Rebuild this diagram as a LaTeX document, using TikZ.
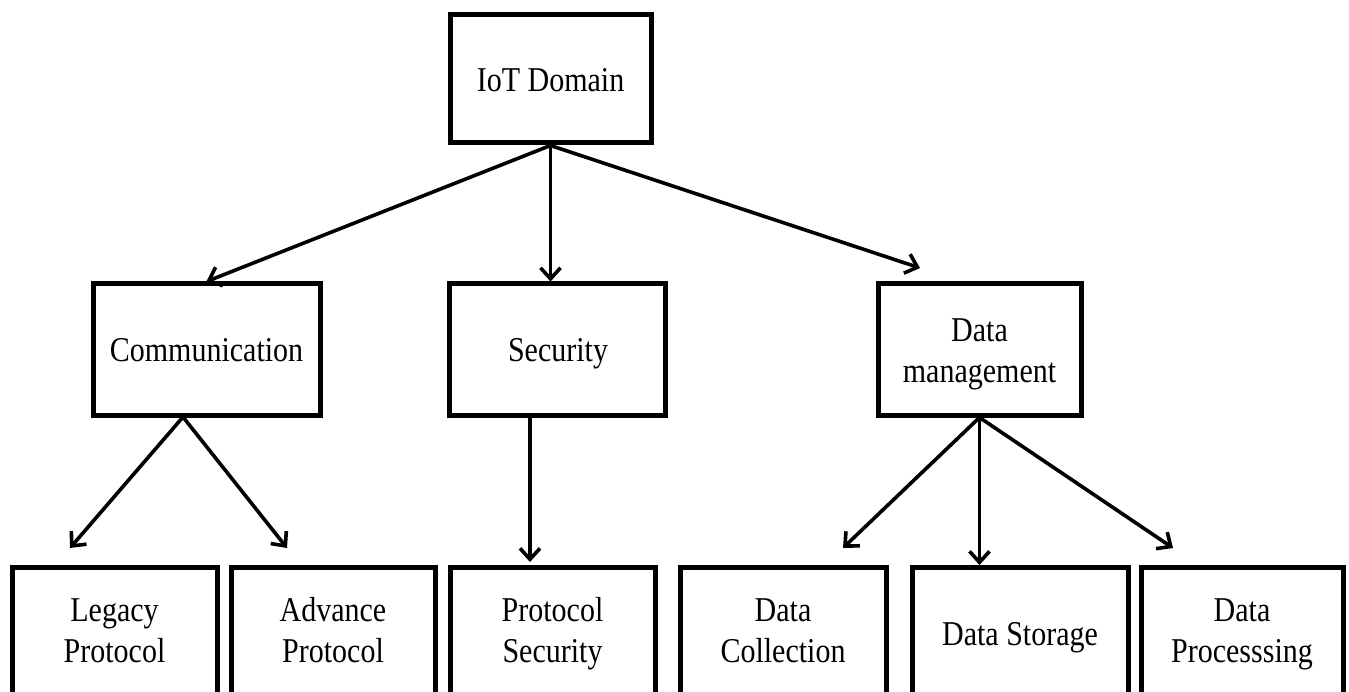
\documentclass[tikz,border=0pt]{standalone}
\usepackage{fontspec}
\setmainfont{Liberation Serif}
\usepackage{graphicx}
\usetikzlibrary{arrows.meta}
\newcommand{\stx}[1]{\scalebox{1}[1.16]{\begin{tabular}{@{}c@{}}#1\end{tabular}}}
\begin{document}
\begin{tikzpicture}[x=1pt,y=-1pt,
  box/.style={draw, line width=5pt, rectangle, inner sep=0pt},
  arr/.style={line width=3.6pt, -{Straight Barb[length=11pt,width=20pt]}},
  txt/.style={font=\fontsize{30}{35.5}\selectfont, yshift=-4pt}]
\useasboundingbox (0,0) rectangle (1349,692);
\clip (0,0) rectangle (1349,692);
% top level
\node[box, minimum width=201pt, minimum height=128pt] (iot) at (550.5,79) {};
\node[txt] (iott) at (550.5,79) {\stx{IoT Domain}};
% middle level
\node[box, minimum width=227pt, minimum height=131pt] (comm) at (206.5,349.5) {};
\node[txt] (commt) at (206.5,349.5) {\stx{Communication}};
\node[box, minimum width=216pt, minimum height=131pt] (sec) at (557,349.5) {};
\node[txt] (sect) at (558,349.5) {\stx{Security}};
\node[box, minimum width=203pt, minimum height=131pt] (dm) at (979.5,349.5) {};
\node[txt] (dmt) at (979.5,350) {\stx{Data\\management}};
% bottom level boxes
\node[box, minimum width=205pt, minimum height=200pt, anchor=north] (b1) at (114.5,565) {};
\node[box, minimum width=204pt, minimum height=200pt, anchor=north] (b2) at (333,565) {};
\node[box, minimum width=205pt, minimum height=200pt, anchor=north] (b3) at (552.5,565) {};
\node[box, minimum width=206pt, minimum height=200pt, anchor=north] (b4) at (783,565) {};
\node[box, minimum width=216pt, minimum height=200pt, anchor=north] (b5) at (1020,565) {};
\node[box, minimum width=202pt, minimum height=200pt, anchor=north] (b6) at (1242,565) {};
% bottom texts
\node[txt] (b1t) at (114.5,630) {\stx{Legacy\\Protocol}};
\node[txt] (b2t) at (333,630) {\stx{Advance\\Protocol}};
\node[txt] (b3t) at (552.5,630) {\stx{Protocol\\Security}};
\node[txt] (b4t) at (783,630) {\stx{Data\\Collection}};
\node[txt] (b5t) at (1020,633) {\stx{Data Storage}};
\node[txt] (b6t) at (1242,630) {\stx{Data\\Processsing}};
% connector end points
\coordinate (dmin) at (920,268);
\coordinate (cs) at (183,417);
\coordinate (e1) at (70,548);
\coordinate (e2) at (287,548);
\coordinate (ss) at (530,417);
\coordinate (e3) at (530,562);
\coordinate (e4) at (843,548);
\coordinate (e6) at (1173,548);
% connectors
\draw[arr] (iot.south) -- (comm.north);
\draw[arr] (iot.south) -- (iot.south |- sec.north);
\draw[arr] (iot.south) -- (dmin);
\draw[arr] (cs) -- (e1);
\draw[arr] (cs) -- (e2);
\draw[arr] (ss) -- (e3);
\draw[arr] (dm.south) -- (e4);
\draw[arr] (dm.south) -- (dm.south |- b5.north);
\draw[arr] (dm.south) -- (e6);
\end{tikzpicture}
\end{document}
